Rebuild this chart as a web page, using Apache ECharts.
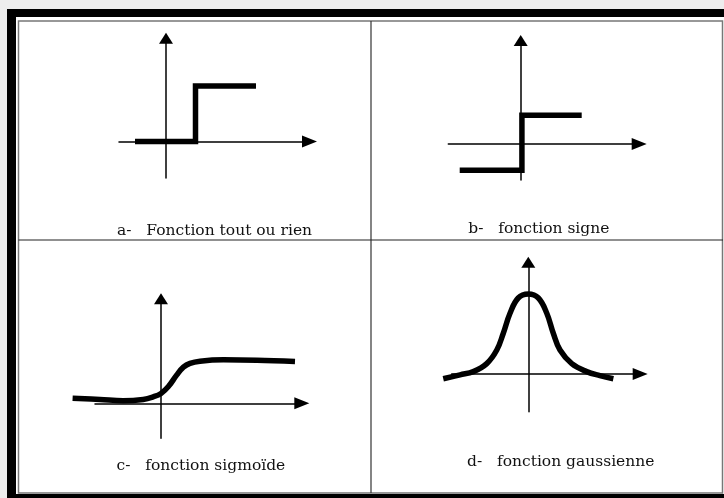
<!DOCTYPE html>
<html><head><meta charset="utf-8">
<script src="https://cdn.jsdelivr.net/npm/echarts@6/dist/echarts.min.js"></script>
<style>html,body{margin:0;padding:0;background:#fff}#c{width:724px;height:498px}</style>
</head><body><div id="c"></div>
<script>
// ---- data ----
const stepX = [-1.05, 1, 1, 3.05];
const stepY = [0, 0, 1, 1];
const signX = [-1, 0.02, 0.02, 1];
const signY = [-0.95, -0.95, 1.05, 1.05];
const sigmoidX = [-4.42, -3.05, -1.89, -0.89, -0.39, 0, 0.37, 0.79, 1.12, 1.45, 1.95, 3.12, 4.79, 6.7];
const sigmoidY = [0.12, 0.09, 0.06, 0.09, 0.15, 0.23, 0.39, 0.66, 0.84, 0.93, 0.98, 1.01, 1.0, 0.97];
const gaussX = [-4.05, -3.25, -2.62, -1.98, -1.5, -1.19, -0.87, -0.48, 0, 0.48, 0.88, 1.19, 1.51, 2.07, 2.78, 3.41, 4.05];
const gaussY = [-0.06, -0.01, 0.03, 0.13, 0.3, 0.51, 0.76, 0.95, 1.0, 0.95, 0.76, 0.51, 0.3, 0.13, 0.03, -0.02, -0.06];
const panelLabels = ['a-   Fonction tout ou rien', 'b-   fonction signe', 'c-   fonction sigmo\u00efde', 'd-   fonction gaussienne'];

// ---- layout (pixels) ----
const panels = [
  {l:119, r:309.5, t:38.2, b:178, ox:166, oy:141.5, ux:29.5, uy:55.5, xs:stepX, ys:stepY, smooth:false, lx:117, lb:235.5},
  {l:448.3, r:639.2, t:40.5, b:180, ox:520.7, oy:144, ux:61, uy:27.5, xs:signX, ys:signY, smooth:false, lx:468.3, lb:233.5},
  {l:95, r:301.8, t:298.8, b:438.3, ox:161, oy:403.3, ux:20, uy:43, xs:sigmoidX, ys:sigmoidY, smooth:0.4, lx:116.5, lb:470},
  {l:451.7, r:640.2, t:262.2, b:411.7, ox:528.3, oy:374, ux:21, uy:80, xs:gaussX, ys:gaussY, smooth:0.4, lx:467, lb:466}
];
const PAD = 30; // extra room for the curve grid so thick curves are never clipped

const grid = [], xAxis = [], yAxis = [], series = [], title = [];
const hidden = {axisLine:{show:false}, axisTick:{show:false}, axisLabel:{show:false}, splitLine:{show:false}};
panels.forEach((p, i) => {
  // visible axes grid
  grid.push({left:p.l, top:p.t, width:p.r - p.l, height:p.b - p.t, containLabel:false});
  const axisCommon = {axisTick:{show:false}, axisLabel:{show:false}, splitLine:{show:false}};
  xAxis.push(Object.assign({type:'value', gridIndex:2*i,
    min:(p.l - p.ox)/p.ux, max:(p.r - p.ox)/p.ux,
    axisLine:{show:true, onZero:true, lineStyle:{color:'#000', width:1.5}, symbol:['none','triangle'], symbolSize:[12,15]}
  }, axisCommon));
  yAxis.push(Object.assign({type:'value', gridIndex:2*i,
    min:-(p.b - p.oy)/p.uy, max:(p.oy - p.t)/p.uy,
    axisLine:{show:true, onZero:true, lineStyle:{color:'#000', width:1.5}, symbol:['none','triangle'], symbolSize:[14,11]}
  }, axisCommon));
  // wider curve grid with the same scale
  const L = p.l - PAD, R = p.r + PAD, T = p.t - PAD, B = p.b + PAD;
  grid.push({left:L, top:T, width:R - L, height:B - T, containLabel:false});
  xAxis.push(Object.assign({type:'value', gridIndex:2*i+1, min:(L - p.ox)/p.ux, max:(R - p.ox)/p.ux}, hidden));
  yAxis.push(Object.assign({type:'value', gridIndex:2*i+1, min:-(B - p.oy)/p.uy, max:(p.oy - T)/p.uy}, hidden));
  series.push({type:'line', xAxisIndex:2*i+1, yAxisIndex:2*i+1, data:p.xs.map((x, k) => [x, p.ys[k]]),
    showSymbol:false, symbol:'none', smooth:p.smooth, clip:false, animation:false,
    lineStyle:{color:'#000', width:5.5, join:'miter', cap:'butt'}, z:3});
  title.push({text:panelLabels[i], left:p.lx, top:p.lb - 12.5, padding:0,
    textStyle:{fontFamily:'DejaVu Serif', fontSize:15.5, fontWeight:'normal', color:'#111'}});
});

const chart = echarts.init(document.getElementById('c'), null, {renderer:'canvas'});
chart.setOption({
  backgroundColor:'#fff',
  animation:false,
  title, grid, xAxis, yAxis, series,
  graphic:[
    {type:'rect', shape:{x:0, y:0, width:724, height:9}, style:{fill:'#ededed'}, z:0},
    {type:'rect', shape:{x:0, y:0, width:7, height:498}, style:{fill:'#ededed'}, z:0},
    {type:'rect', shape:{x:7, y:9, width:717, height:8}, style:{fill:'#000'}, z:0},
    {type:'rect', shape:{x:7, y:9, width:9, height:489}, style:{fill:'#000'}, z:0},
    {type:'rect', shape:{x:7, y:494, width:717, height:4}, style:{fill:'#000'}, z:0},
    {type:'rect', shape:{x:18.5, y:21, width:704, height:472}, style:{fill:null, stroke:'#777', lineWidth:1.5}, z:0},
    {type:'line', shape:{x1:371, y1:21, x2:371, y2:493}, style:{stroke:'#333', lineWidth:1.2}, z:0},
    {type:'line', shape:{x1:18.5, y1:240, x2:723, y2:240}, style:{stroke:'#222', lineWidth:1.2}, z:0}
  ]
});
</script></body></html>
